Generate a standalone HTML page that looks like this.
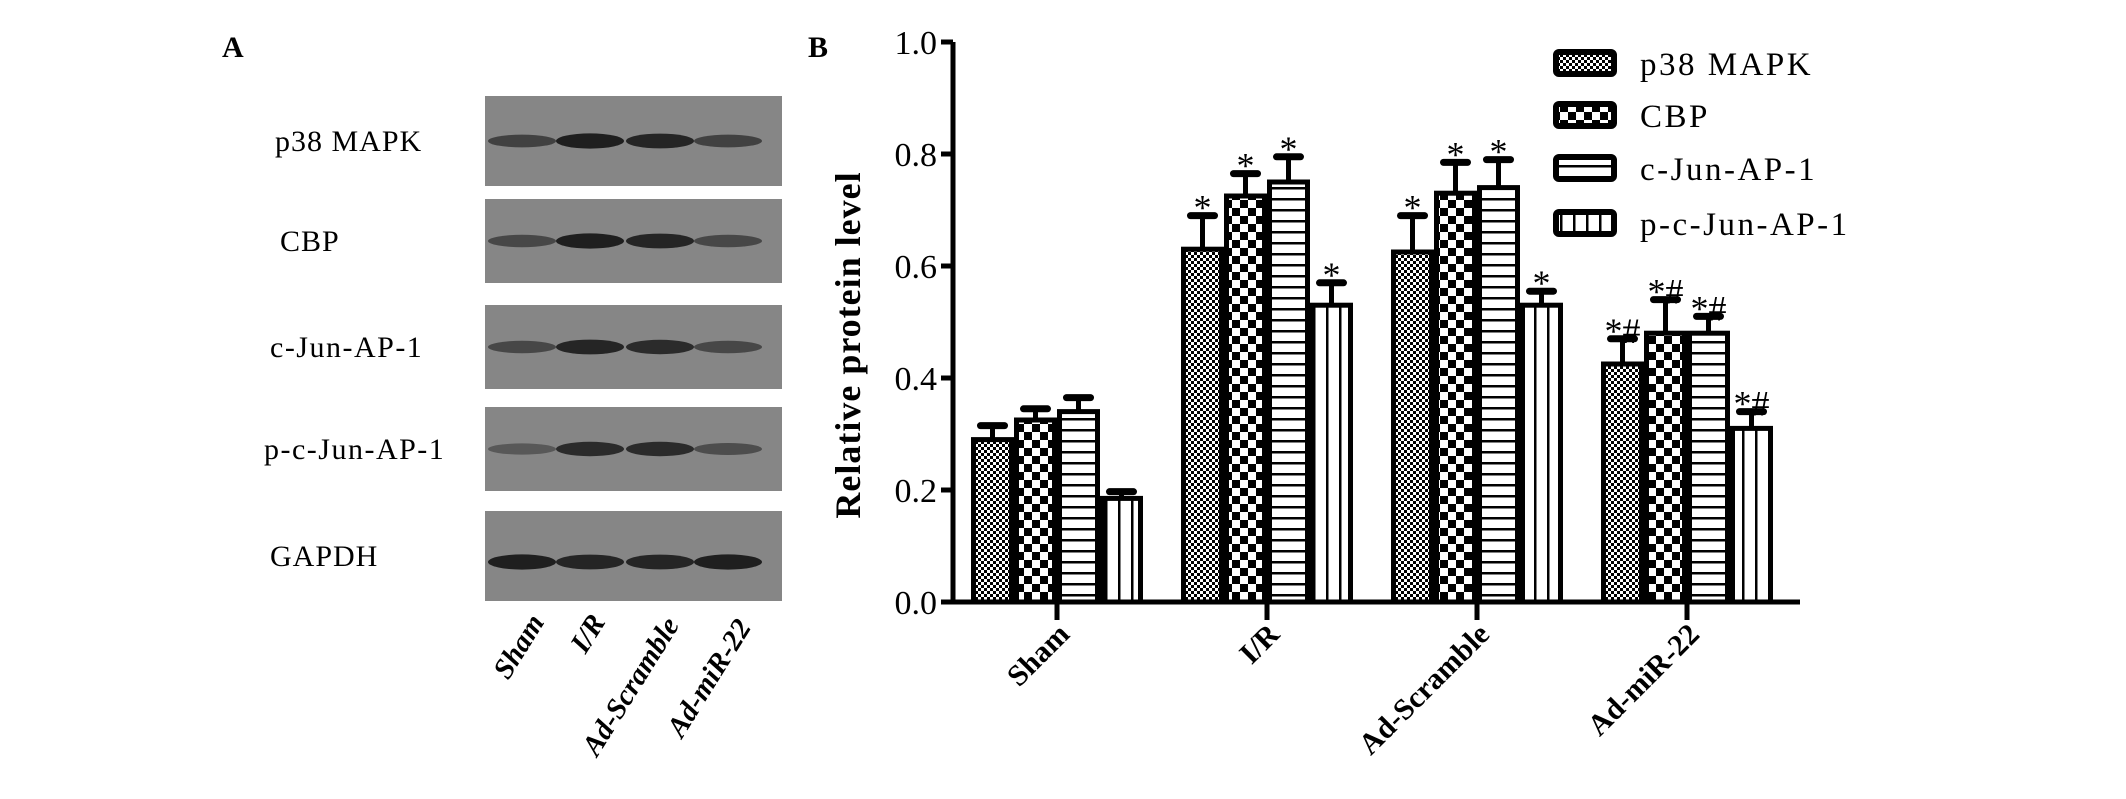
<!DOCTYPE html>
<html><head><meta charset="utf-8"><style>
body{margin:0;background:#fff;}
svg text{font-family:"Liberation Serif",serif;}
</style></head><body>
<svg width="2126" height="794" viewBox="0 0 2126 794" xmlns="http://www.w3.org/2000/svg">
<defs>
<pattern id="pat0" width="6" height="6" patternUnits="userSpaceOnUse"><rect width="6" height="6" fill="#fff"/><rect width="3" height="3" fill="#000"/><rect x="3" y="3" width="3" height="3" fill="#000"/></pattern>
<pattern id="pat1" width="16" height="16" patternUnits="userSpaceOnUse"><rect width="16" height="16" fill="#fff"/><rect width="8" height="8" fill="#000"/><rect x="8" y="8" width="8" height="8" fill="#000"/></pattern>
<pattern id="pat2" width="10" height="11" patternUnits="userSpaceOnUse"><rect width="10" height="11" fill="#fff"/><rect y="0" width="10" height="2.5" fill="#000"/></pattern>
<pattern id="pat3" width="13" height="10" patternUnits="userSpaceOnUse"><rect width="13" height="10" fill="#fff"/><rect x="0" width="2.5" height="10" fill="#000"/></pattern>
</defs>
<text x="222" y="57" font-size="30" font-weight="bold">A</text>
<text x="808" y="57" font-size="30" font-weight="bold">B</text>
<g id="blots"></g>
<g id="chart"></g>
</svg>
<script>
const categories=["Sham","I/R","Ad-Scramble","Ad-miR-22"];
const seriesNames=["p38 MAPK","CBP","c-Jun-AP-1","p-c-Jun-AP-1"];
const p38=[0.29,0.63,0.625,0.425];
const cbp=[0.325,0.725,0.73,0.48];
const cjun=[0.34,0.75,0.74,0.48];
const pcjun=[0.185,0.53,0.53,0.31];
const p38Err=[0.025,0.06,0.065,0.045];
const cbpErr=[0.02,0.04,0.055,0.06];
const cjunErr=[0.025,0.045,0.05,0.03];
const pcjunErr=[0.012,0.04,0.025,0.03];
const sigLabels=[["","","",""],["*","*","*","*"],["*","*","*","*"],["*#","*#","*#","*#"]];
const yTicks=[0,0.2,0.4,0.6,0.8,1.0];
const blotNames=["p38 MAPK","CBP","c-Jun-AP-1","p-c-Jun-AP-1","GAPDH"];
const bandIntensity=[[0.6,0.9,0.85,0.6],[0.55,0.9,0.85,0.55],[0.55,0.85,0.8,0.55],[0.4,0.8,0.8,0.5],[0.9,0.85,0.85,0.9]];

const NS="http://www.w3.org/2000/svg";
function mk(tag,attrs,parent){const e=document.createElementNS(NS,tag);for(const k in attrs)e.setAttribute(k,attrs[k]);parent.appendChild(e);return e;}
const chart=document.getElementById('chart');
const x0=953,yBase=602,yTop=42;
function yScale(v){return yBase-(v)*(yBase-yTop);}
function groupCenter(i){return 1057+i*210;}
const bw=43;
let ax=mk('line',{x1:x0,y1:yTop,x2:x0,y2:yBase,stroke:'#000','stroke-width':5},chart);


let xa=mk('line',{x1:x0-4,y1:yBase,x2:1800,y2:yBase,stroke:'#000','stroke-width':5},chart);


yTicks.forEach(t=>{
 const y=yScale(t);
 const tk=mk('line',{x1:x0-12,y1:y,x2:x0,y2:y,stroke:'#000','stroke-width':5},chart);
 
 
 const tl=mk('text',{x:x0-16,y:y+12,'font-size':34,'text-anchor':'end'},chart);
 tl.textContent=t.toFixed(1);
 
 
});
const yt=mk('text',{x:0,y:0,'font-size':36,'font-weight':'bold','text-anchor':'middle','letter-spacing':'1',transform:'translate(860,345) rotate(-90)'},chart);
yt.textContent='Relative protein level';


const series=[p38,cbp,cjun,pcjun];
const errs=[p38Err,cbpErr,cjunErr,pcjunErr];
categories.forEach((c,i)=>{
 const gc=groupCenter(i);
 const tk=mk('line',{x1:gc,y1:yBase,x2:gc,y2:yBase+18,stroke:'#000','stroke-width':5},chart);
 
 
 const lab=mk('text',{x:0,y:0,'font-size':30,'font-weight':'bold','text-anchor':'end',transform:`translate(${gc+14},${yBase+34}) rotate(-45)`},chart);
 lab.textContent=c;
 
 
 series.forEach((s,j)=>{
  const bx=gc+(j-2)*bw;
  const v=s[i],e=errs[j][i];
  const cx=bx+bw/2;
  const el=mk('line',{x1:cx,y1:yScale(v),x2:cx,y2:yScale(v+e),stroke:'#000','stroke-width':5},chart);
  
  
  const cap=mk('line',{x1:cx-12,y1:yScale(v+e),x2:cx+12,y2:yScale(v+e),stroke:'#000','stroke-width':7,'stroke-linecap':'round'},chart);
  
  
  const r=mk('rect',{x:bx+2.5,y:yScale(v),width:bw-5,height:yBase-yScale(v),fill:`url(#pat${j})`,stroke:'#000','stroke-width':5},chart);
  
  
  const sg=sigLabels[i][j];
  if(sg){const st=mk('text',{x:cx,y:yScale(v+e)+4,'font-size':36,'text-anchor':'middle'},chart);
   st.textContent=sg;
   
   }
 });
});
seriesNames.forEach((n,j)=>{
 const y=[63,115,168,223][j];
 const g=mk('g',{},chart);
 
 
 mk('rect',{x:1556,y:y-11,width:58,height:22,rx:3,fill:`url(#pat${j})`,stroke:'#000','stroke-width':6},g);
 const t=mk('text',{x:1640,y:y+12,'font-size':33,'letter-spacing':'2.5'},g);
 t.textContent=n;
});
const blots=document.getElementById('blots');
const rows=[[96,186],[199,283],[305,389],[407,491],[511,601]];
const laneX=[522,590,660,728];
rows.forEach((r,i)=>{
 const g=mk('g',{},blots);
 
 
 mk('rect',{x:485,y:r[0],width:297,height:r[1]-r[0],fill:'#868686'},g);
 const cy=(r[0]+r[1])/2+(i==4?6:0);
 laneX.forEach((lx,k)=>{
  const a=bandIntensity[i][k];
  mk('ellipse',{cx:lx,cy:cy,rx:34,ry:4+a*4,fill:`rgba(20,20,20,${a})`},g);
 });
 const t=mk('text',{x:i==4?270:(i==0?275:(i==1?280:(i==2?270:264))),y:(r[0]+r[1])/2+10,'font-size':30,'letter-spacing':i==3||i==2?'1.5':'1'},g);
 t.textContent=blotNames[i];
});
const laneEnds=[[545,622],[606,622],[680,625],[752,627]];
categories.forEach((c,k)=>{
 const t=mk('text',{x:0,y:0,'font-size':29,'font-weight':'bold','font-style':'italic','text-anchor':'end',transform:`translate(${laneEnds[k][0]},${laneEnds[k][1]}) rotate(-58)`},blots);
 t.textContent=c;
 
 
});
</script>
</body></html>
